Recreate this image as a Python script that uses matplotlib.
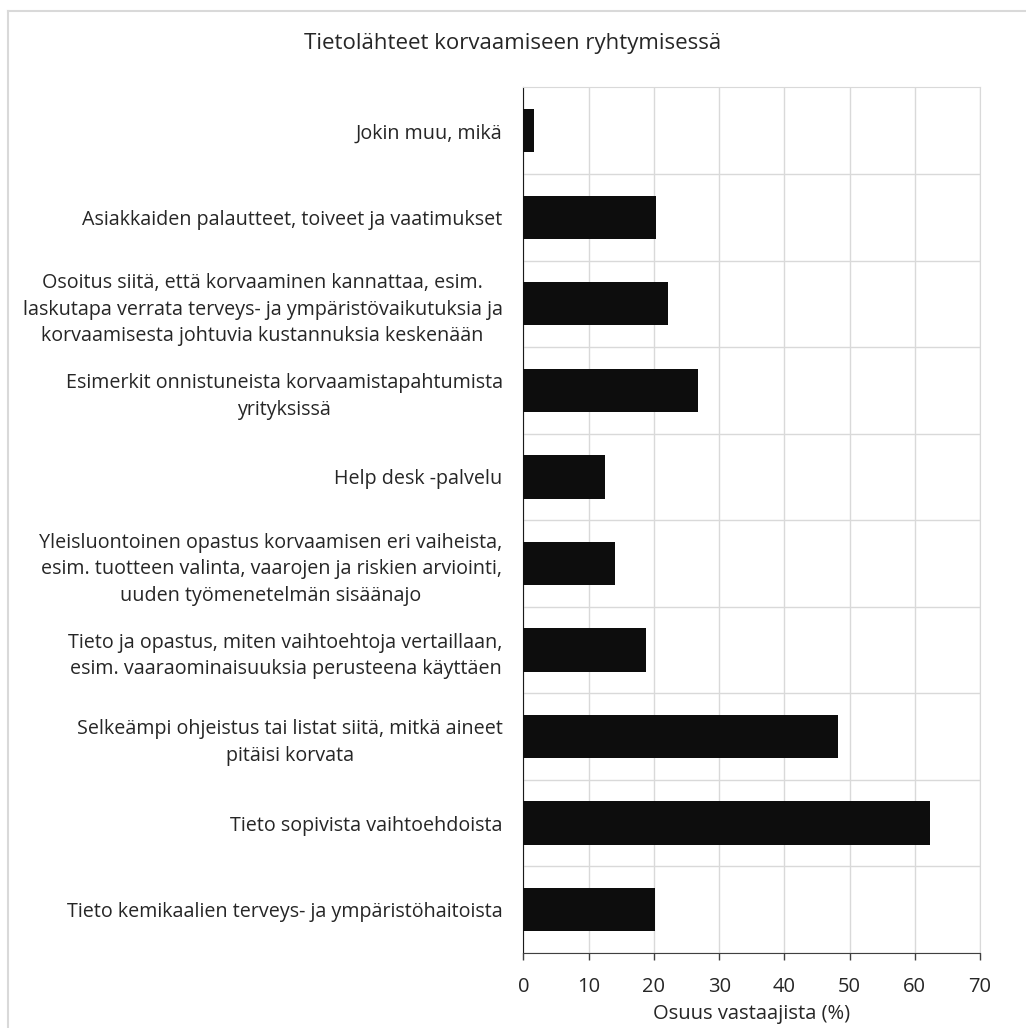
from matplotlib import pyplot as plt
from matplotlib.lines import Line2D
import numpy as np

plt.rcParams['font.family'] = ['Open Sans', 'DejaVu Sans']

categories = [
    'Jokin muu, mikä',
    'Asiakkaiden palautteet, toiveet ja vaatimukset',
    'Osoitus siitä, että korvaaminen kannattaa, esim.\nlaskutapa verrata terveys- ja ympäristövaikutuksia ja\nkorvaamisesta johtuvia kustannuksia keskenään',
    'Esimerkit onnistuneista korvaamistapahtumista\nyrityksissä',
    'Help desk -palvelu',
    'Yleisluontoinen opastus korvaamisen eri vaiheista,\nesim. tuotteen valinta, vaarojen ja riskien arviointi,\nuuden työmenetelmän sisäänajo',
    'Tieto ja opastus, miten vaihtoehtoja vertaillaan,\nesim. vaaraominaisuuksia perusteena käyttäen',
    'Selkeämpi ohjeistus tai listat siitä, mitkä aineet\npitäisi korvata',
    'Tieto sopivista vaihtoehdoista',
    'Tieto kemikaalien terveys- ja ympäristöhaitoista',
]
values = [1.6, 20.3, 22.1, 26.7, 12.5, 14.0, 18.8, 48.3, 62.4, 20.1]
xticks = [0, 10, 20, 30, 40, 50, 60, 70]

fig = plt.figure(figsize=(10.26, 10.28), dpi=100)
ax = fig.add_axes([0.5102, 0.0730, 0.4450, 0.8419])

y = np.arange(len(categories))
ax.barh(y, values, height=0.5, color='#0d0d0d', zorder=3)

ax.set_xlim(0, 70)
ax.set_ylim(len(categories) - 0.5, -0.5)
ax.set_xticks(xticks)
ax.set_yticks(y)
ax.set_yticklabels(categories, multialignment='center', fontsize=14.2,
                   color='#262626', linespacing=1.45)
ax.set_yticks(np.arange(len(categories)) + 0.5, minor=True)

ax.tick_params(axis='y', which='both', length=0, pad=15)
ax.tick_params(axis='x', length=5, width=1, color='#404040', labelsize=14.5,
               labelcolor='#262626', pad=12)
ax.grid(axis='x', color='#d9d9d9', linewidth=1, zorder=0)
ax.grid(axis='y', which='minor', color='#d9d9d9', linewidth=1, zorder=0)

ax.spines['left'].set_color('#1a1a1a')
ax.spines['bottom'].set_color('#404040')
ax.spines['top'].set_color('#d9d9d9')
ax.spines['right'].set_color('#d9d9d9')

ax.set_xlabel('Osuus vastaajista (%)', fontsize=14.5, color='#262626', labelpad=5)

fig.text(0.5, 0.958, 'Tietolähteet korvaamiseen ryhtymisessä', ha='center', va='center',
         fontsize=16, color='#262626')

# outer chart border (top and left visible)
fig.add_artist(Line2D([8 / 1026, 8 / 1026], [0, 1 - 11 / 1028], color='#d9d9d9', lw=1.5))
fig.add_artist(Line2D([8 / 1026, 1], [1 - 11 / 1028, 1 - 11 / 1028], color='#d9d9d9', lw=1.5))

fig.savefig('out.png', dpi=100)
